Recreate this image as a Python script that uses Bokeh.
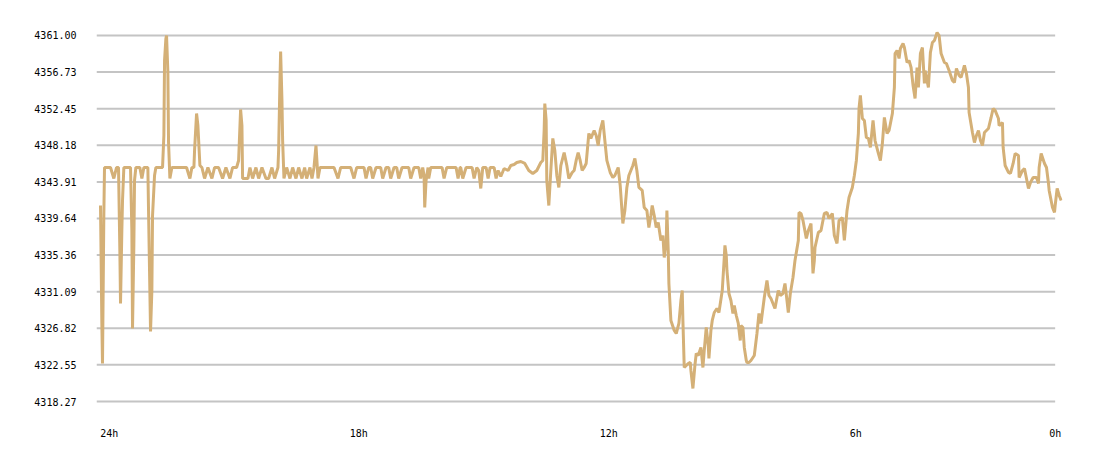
from bokeh.plotting import figure
from bokeh.models import Range1d, FixedTicker, PrintfTickFormatter
from bokeh.embed import file_html
from bokeh.resources import INLINE

# minutes since start of the 24h window
minutes = [
    0, 2, 3, 5, 6, 15, 20, 24, 27, 29, 30, 32, 33, 35, 45, 47, 48, 50, 51, 53,
    59, 62, 65, 71, 72, 75, 77, 78, 81, 83, 93, 95, 96, 98, 99, 101, 102, 104, 107, 129,
    134, 137, 140, 141, 144, 146, 149, 152, 156, 161, 167, 171, 177, 183, 188, 194, 198, 204, 207, 210,
    212, 213, 221, 224, 228, 233, 237, 242, 248, 252, 257, 261, 266, 267, 269, 270, 272, 273, 275, 279,
    284, 288, 293, 297, 302, 306, 309, 314, 317, 320, 323, 326, 329, 338,
    350, 356, 360, 375, 380, 384, 395, 398, 402, 405, 408, 413, 420, 423, 428, 432, 435, 440, 444, 447,
    452, 462, 465, 470, 477, 480, 483, 485, 486, 488, 491, 492, 495, 512, 515, 519, 533, 536, 539, 540,
    543, 548, 557, 560, 564, 567, 570, 573, 578, 581, 584, 590, 593, 596, 600, 605, 611, 615, 620, 624,
    630, 636, 642, 648, 654, 660, 663, 665, 666, 668, 669, 672, 675, 678, 681, 684, 687, 690, 695, 699,
    702, 707, 710, 713, 716, 719, 722, 725, 728, 732, 735, 740, 743, 746, 749, 753, 756, 759, 764, 768,
    771, 776, 779, 783, 786, 789, 792, 795, 798, 801, 804, 807, 812, 815, 819, 822, 825, 827, 830, 833,
    836, 840, 843, 845, 848, 849, 851, 852, 855, 860, 863, 867, 870, 872, 873, 875, 878, 881, 884, 885,
    888, 891, 893, 896, 900, 903, 905, 908, 911, 912, 915, 917, 920, 924, 927, 932, 935, 936, 938, 939,
    942, 945, 948, 950, 953, 956, 959, 960, 963, 965, 968, 969, 972, 975, 980, 984, 987, 990, 995, 999,
    1002, 1005, 1008, 1011, 1016, 1019, 1023, 1026, 1029, 1031, 1034, 1038, 1041, 1046, 1047, 1050, 1053, 1058, 1061, 1065,
    1068, 1070, 1071, 1076, 1080, 1085, 1089, 1092, 1097, 1100, 1104, 1107, 1112, 1115, 1119, 1122, 1127, 1130, 1133, 1136,
    1137, 1139, 1142, 1145, 1148, 1151, 1154, 1158, 1161, 1166, 1169, 1172, 1175, 1179, 1182, 1187, 1190, 1191, 1194, 1197,
    1199, 1203, 1205, 1209, 1212, 1215, 1218, 1221, 1224, 1226, 1229, 1232, 1235, 1236, 1241, 1244, 1247, 1250, 1254, 1257,
    1260, 1265, 1268, 1272, 1277, 1280, 1283, 1287, 1290, 1295, 1298, 1301, 1302, 1307, 1310, 1313, 1316, 1319, 1322, 1325,
    1331, 1335, 1338, 1341, 1346, 1347, 1352, 1353, 1356, 1361, 1364, 1368, 1371, 1376, 1377, 1382, 1385, 1391, 1394, 1398,
    1403, 1406, 1407, 1410, 1415, 1418, 1421, 1422, 1427, 1430, 1431, 1434, 1437, 1440,
]

prices = [
    4341.15, 4327.50, 4322.71, 4339.99, 4345.59, 4345.59, 4344.31, 4345.59, 4345.59, 4335.90,
    4329.71, 4338.24, 4341.74, 4345.59, 4345.59, 4338.24, 4326.80, 4336.49, 4344.07, 4345.59,
    4345.59, 4344.31, 4345.59, 4345.59, 4340.57, 4326.45, 4331.23, 4339.99, 4344.66, 4345.59,
    4345.59, 4349.33, 4358.08, 4360.65, 4361.00, 4356.68, 4348.51, 4344.31, 4345.59, 4345.59,
    4344.31, 4345.59, 4345.59, 4347.58, 4351.89, 4350.49, 4345.82, 4345.59, 4344.31, 4345.59,
    4344.31, 4345.59, 4345.59, 4344.31, 4345.59, 4344.31, 4345.59, 4345.59, 4346.41, 4352.36,
    4350.49, 4344.31, 4344.31, 4345.59, 4344.31, 4345.59, 4344.31, 4345.59, 4344.31, 4344.31,
    4345.59, 4344.31, 4345.59, 4347.58, 4355.75, 4359.13, 4353.41, 4348.74, 4344.31, 4345.59,
    4344.31, 4345.59, 4344.31, 4345.59, 4344.31, 4345.59, 4344.31, 4345.59, 4344.31, 4345.59,
    4348.16, 4344.31, 4345.59, 4345.59,
    4345.59, 4344.31, 4345.59, 4345.59, 4344.31, 4345.59, 4345.59, 4344.31, 4345.59, 4345.59,
    4344.31, 4345.59, 4345.59, 4344.31, 4345.59, 4345.59, 4344.31, 4345.59, 4345.59, 4344.31,
    4345.59, 4345.59, 4344.31, 4345.59, 4345.59, 4344.31, 4345.59, 4344.66, 4340.92, 4344.07,
    4345.59, 4344.31, 4345.59, 4345.59, 4344.31, 4345.59, 4345.59, 4344.31, 4345.59, 4345.59,
    4344.31, 4345.59, 4345.59, 4344.31, 4345.59, 4345.24, 4343.14, 4345.59, 4345.59, 4344.31,
    4345.59, 4345.59, 4344.31, 4345.24, 4344.54, 4345.47, 4345.24, 4345.82, 4345.94, 4346.17,
    4346.29, 4346.06, 4345.24, 4344.89, 4345.24, 4346.17, 4346.41, 4349.91, 4353.06, 4351.08,
    4344.07, 4341.15, 4345.24, 4348.98, 4347.58, 4344.66, 4343.26, 4345.82, 4347.34, 4345.82,
    4344.31, 4345.01, 4345.24, 4346.41, 4347.34, 4346.41, 4345.24, 4345.59, 4346.06, 4349.56,
    4348.98, 4349.91, 4349.33, 4348.16, 4349.91, 4351.08, 4348.74, 4346.41, 4345.01, 4344.42,
    4344.66, 4345.59, 4343.49, 4339.05, 4340.57, 4343.26, 4344.66, 4345.24, 4345.82, 4346.64,
    4345.24, 4343.26, 4342.91, 4340.92, 4340.57, 4338.59, 4339.99, 4341.15, 4339.99, 4338.59,
    4339.17, 4337.07, 4337.65, 4335.08, 4337.07, 4340.57, 4335.90, 4332.05, 4327.73, 4326.56,
    4326.21, 4327.38, 4330.06, 4331.23, 4327.73, 4322.24, 4322.48, 4322.71, 4322.83, 4321.89,
    4319.79, 4322.48, 4323.88, 4323.64, 4324.58, 4322.24, 4324.23, 4326.91, 4324.81, 4323.29,
    4326.56, 4327.73, 4328.66, 4329.13, 4328.66, 4331.23, 4335.08, 4336.49, 4335.32, 4333.57,
    4330.88, 4330.06, 4328.55, 4329.48, 4328.31, 4327.38, 4325.39, 4327.15, 4326.91, 4324.58,
    4323.06, 4322.83, 4322.83, 4323.06, 4323.64, 4326.21, 4328.55, 4327.38, 4330.41, 4332.40,
    4330.65, 4330.30, 4329.71, 4329.13, 4331.23, 4330.65, 4330.88, 4332.05, 4330.06, 4328.66,
    4330.88, 4332.75, 4334.73, 4337.07, 4340.34, 4340.22, 4339.40, 4337.30, 4338.24, 4339.05,
    4333.22, 4334.73, 4336.25, 4338.00, 4338.24, 4340.22, 4340.34, 4339.64, 4340.22, 4337.65,
    4336.72, 4339.40, 4339.75, 4337.07, 4340.57, 4342.09, 4343.26, 4344.66, 4346.41, 4349.56,
    4352.48, 4354.00, 4351.31, 4351.08, 4349.09, 4348.98, 4347.93, 4351.08, 4348.74, 4347.23,
    4346.41, 4348.39, 4351.43, 4349.56, 4349.91, 4351.89, 4354.93, 4358.90, 4359.25, 4358.32,
    4359.48, 4360.07, 4359.60, 4357.85, 4358.08, 4357.26, 4355.16, 4353.65, 4357.26, 4354.93,
    4358.90, 4359.60, 4355.40, 4356.91, 4354.93, 4359.02, 4360.18, 4360.42, 4361.35, 4361.00,
    4358.90, 4357.85, 4357.73, 4356.91, 4355.75, 4355.51, 4357.15, 4356.33, 4356.10, 4357.50,
    4356.56, 4354.93, 4352.01, 4349.68, 4348.51, 4349.33, 4349.91, 4348.74, 4348.16, 4349.68,
    4350.14, 4351.43, 4352.48, 4352.25, 4351.31, 4350.49, 4350.84, 4347.93, 4345.82, 4345.01,
    4344.89, 4346.06, 4347.23, 4346.99, 4344.42, 4345.24, 4345.47, 4343.14, 4343.84, 4344.42,
    4344.42, 4343.72, 4345.59, 4347.23, 4346.06, 4345.59, 4343.72, 4342.91, 4340.92, 4340.34,
    4341.15, 4343.14, 4342.32, 4341.74,
]

y_ticks = [4318.27, 4322.55, 4326.82, 4331.09, 4335.36, 4339.64,
           4343.91, 4348.18, 4352.45, 4356.73, 4361.00]
x_tick_pos = [13, 387, 762, 1132, 1431]
x_tick_labels = ["24h", "18h", "12h", "6h", "0h"]

LINE = "#d4b077"
GRID = "#c4c4c4"
FONT = "DejaVu Sans Mono"

p = figure(width=1092, height=450, output_backend="svg", toolbar_location=None,
           x_range=Range1d(-6, 1442), y_range=Range1d(4317.22, 4362.75),
           min_border_left=96, min_border_right=30, min_border_top=20, min_border_bottom=40)
p.outline_line_color = None
p.xgrid.visible = False
p.ygrid.visible = False
p.background_fill_color = "white"
p.border_fill_color = "white"

# horizontal grid lines ending at the last time label
p.segment(x0=[-6] * len(y_ticks), x1=[x_tick_pos[-1]] * len(y_ticks),
          y0=y_ticks, y1=y_ticks, line_color=GRID, line_width=2)

p.line(minutes, prices, line_color=LINE, line_width=3)

p.yaxis.ticker = FixedTicker(ticks=y_ticks)
p.yaxis.formatter = PrintfTickFormatter(format="%.2f")
p.xaxis.ticker = FixedTicker(ticks=x_tick_pos)
p.xaxis.major_label_overrides = {t: l for t, l in zip(x_tick_pos, x_tick_labels)}

for ax in (p.xaxis[0], p.yaxis[0]):
    ax.axis_line_color = None
    ax.major_tick_line_color = None
    ax.minor_tick_line_color = None
    ax.major_tick_in = 0
    ax.major_tick_out = 0
    ax.major_label_text_font = FONT
    ax.major_label_text_font_size = "10px"
    ax.major_label_text_color = "black"
p.yaxis.major_label_standoff = 20
p.xaxis.major_label_standoff = 17

open("out.html", "w").write(file_html(p, INLINE))
